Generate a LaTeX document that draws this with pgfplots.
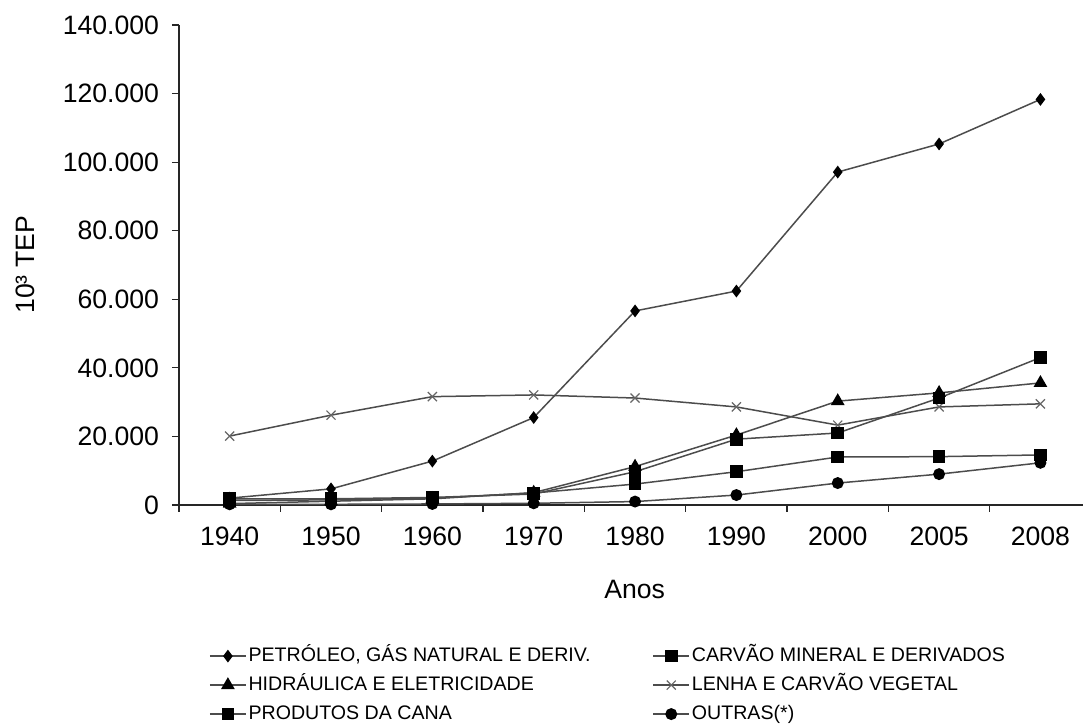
\documentclass[border=0pt]{standalone}
\usepackage{fontspec}
\setmainfont{Liberation Sans}
\usepackage{pgfplots}
\pgfplotsset{compat=1.18}

\pgfplotstableread{
x petroleo carvao hidraulica lenha cana outras
0 2000 1300 400 20100 1800 200
1 4700 1500 1100 26200 1800 200
2 12800 2000 1800 31600 2200 300
3 25500 3500 3600 32100 3200 500
4 56600 6100 11200 31200 9700 1000
5 62400 9700 20400 28600 19200 2900
6 97100 14000 30300 23300 21000 6400
7 105300 14100 32700 28600 31200 9000
8 118300 14600 35600 29500 43000 12300
}\datatable

\begin{document}
\begin{tikzpicture}
\begin{axis}[
  name=ax,
  scale only axis,
  width=452pt, height=240pt,
  xmin=-0.5, xmax=8.42, ymin=0, ymax=140000,
  clip=false,
  scaled y ticks=false,
  axis x line=bottom, axis y line=left,
  axis line style={-, black!85, line width=0.6pt},
  xtick={0,...,8},
  xticklabels={1940,1950,1960,1970,1980,1990,2000,2005,2008},
  minor xtick={-0.5,0.5,1.5,2.5,3.5,4.5,5.5,6.5,7.5},
  major x tick style={draw=none},
  minor x tick style={black!85, line width=0.6pt},
  ytick={0,20000,40000,60000,80000,100000,120000,140000},
  yticklabels={0,20.000,40.000,60.000,80.000,100.000,120.000,140.000},
  y tick style={black!85, line width=0.6pt},
  tick align=outside,
  major tick length=3.5pt, minor tick length=3.5pt,
  tick label style={font=\fontsize{13.3}{16}\selectfont},
  xticklabel style={yshift=-4pt},
  yticklabel style={xshift=-3pt},
  xlabel={Anos},
  ylabel={10³ TEP},
  label style={font=\fontsize{13.3}{16}\selectfont},
  xlabel style={at={(axis description cs:0.504,-0.175)}, anchor=center},
  ylabel style={at={(axis description cs:-0.17,0.5)}, anchor=center, rotate=0},
  every axis plot/.append style={line width=0.75pt, color=black!70},
  legend columns=2,
  legend cell align=left,
  legend style={
    draw=none, fill=none, inner sep=0pt,
    at={(axis description cs:0.033,-0.29)}, anchor=north west,
    font=\fontsize{9.8}{11}\selectfont,
    nodes={inner sep=1pt, text height=7.5pt, text depth=2pt},
    row sep=3pt,
    /tikz/every even column/.append style={column sep=30pt},
  },
  legend image code/.code={
    \draw[mark repeat=2, mark phase=2] plot coordinates {(0cm,0cm) (0.315cm,0cm) (0.63cm,0cm)};
  },
]
\addplot[mark=diamond*, mark size=2.6pt, mark options={solid, fill=black, draw=black}] table[x=x, y=petroleo] {\datatable};
\addlegendentry{PETRÓLEO, GÁS NATURAL E DERIV.}
\addplot[mark=square*, mark size=2.8pt, mark options={solid, fill=black, draw=black}] table[x=x, y=carvao] {\datatable};
\addlegendentry{CARVÃO MINERAL E DERIVADOS}
\addplot[mark=triangle*, mark size=3.2pt, mark options={solid, fill=black, draw=black}] table[x=x, y=hidraulica] {\datatable};
\addlegendentry{HIDRÁULICA E ELETRICIDADE}
\addplot[mark=x, mark size=3.2pt, mark options={solid, draw=black!60, line width=0.6pt}] table[x=x, y=lenha] {\datatable};
\addlegendentry{LENHA E CARVÃO VEGETAL}
\addplot[mark=square*, mark size=2.8pt, mark options={solid, fill=black, draw=black}] table[x=x, y=cana] {\datatable};
\addlegendentry{PRODUTOS DA CANA}
\addplot[mark=*, mark size=2.6pt, mark options={solid, fill=black, draw=black}] table[x=x, y=outras] {\datatable};
\addlegendentry{OUTRAS(*)}
\end{axis}
\pgfresetboundingbox
\path (ax.south west) ++(-89.5pt,-110.5pt) rectangle ++(541.5pt,363pt);
\end{tikzpicture}
\end{document}
